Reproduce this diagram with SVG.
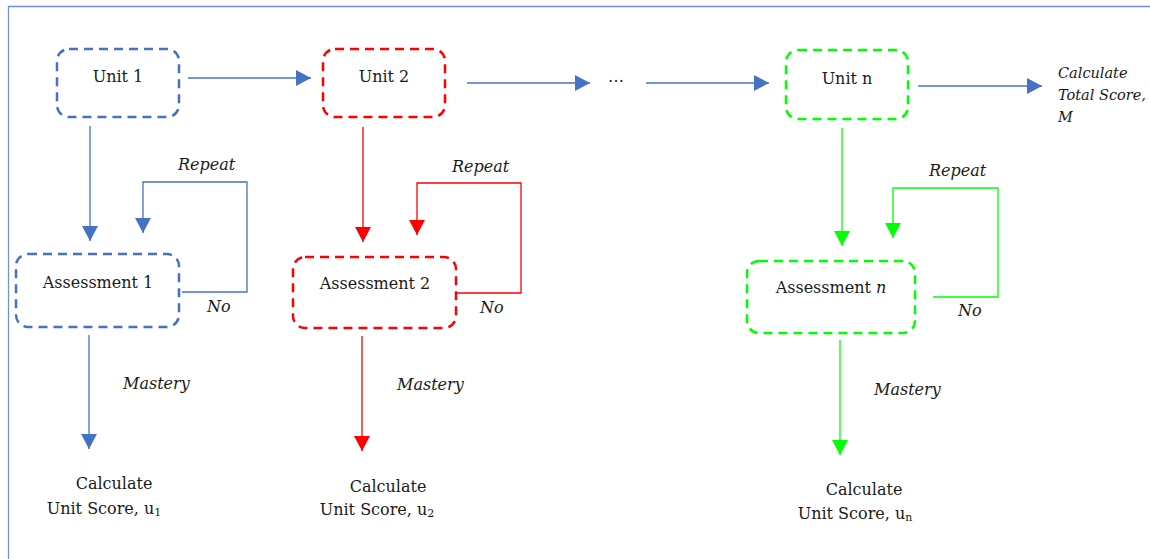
<svg xmlns="http://www.w3.org/2000/svg" width="1150" height="559" viewBox="0 0 1150 559">
  <defs>
    <marker id="ab" markerUnits="userSpaceOnUse" markerWidth="15" markerHeight="16" refX="15" refY="8" orient="auto"><path d="M0,0 L15,8 L0,16 z" fill="#4472C4"/></marker>
    <marker id="ar" markerUnits="userSpaceOnUse" markerWidth="15" markerHeight="16" refX="15" refY="8" orient="auto"><path d="M0,0 L15,8 L0,16 z" fill="#FF0000"/></marker>
    <marker id="ag" markerUnits="userSpaceOnUse" markerWidth="15" markerHeight="16" refX="15" refY="8" orient="auto"><path d="M0,0 L15,8 L0,16 z" fill="#00FF00"/></marker>
  </defs>
  <style>
    .box { fill: none; stroke-width: 2.5; stroke-dasharray: 9 6; }
    .b { stroke: #4472C4; }
    .r { stroke: #FF0000; }
    .g { stroke: #00FF00; }
    .ln { fill: none; stroke-width: 1.3; }
    .t { font-family: "DejaVu Serif", "Liberation Serif", serif; font-size: 16px; fill: #1a1a1a; }
    .i { font-style: italic; }
    .m { text-anchor: middle; }
    .sub { font-size: 11px; }
    .tot { font-size: 14.5px; }
  </style>
  <rect width="1150" height="559" fill="#ffffff"/>
  <path d="M8.5,559 V6.5 H1150" fill="none" stroke="#6F94D4" stroke-width="1.3"/>

  <g id="connectors">
    <path class="ln b" d="M188,78 H311" marker-end="url(#ab)"/>
    <path class="ln b" d="M467,83 H590" marker-end="url(#ab)"/>
    <path class="ln b" d="M646,83 H769" marker-end="url(#ab)"/>
    <path class="ln b" d="M918,86 H1042" marker-end="url(#ab)"/>
    <path class="ln b" d="M90,126 V241" marker-end="url(#ab)"/>
    <path class="ln b" d="M182,292 H247 V182 H143 V233" marker-end="url(#ab)"/>
    <path class="ln b" d="M89,335 V449" marker-end="url(#ab)"/>
    <path class="ln r" d="M363,127 V242" marker-end="url(#ar)"/>
    <path class="ln r" d="M456,293 H521 V183 H417 V235" marker-end="url(#ar)"/>
    <path class="ln r" d="M362,336 V451" marker-end="url(#ar)"/>
    <path class="ln g" d="M842,128 V246" marker-end="url(#ag)"/>
    <path class="ln g" d="M933,297 H998 V188 H893 V238" marker-end="url(#ag)"/>
    <path class="ln g" d="M840,340 V455" marker-end="url(#ag)"/>
  </g>

  <g id="unit1"><rect class="box b" x="57" y="49" width="122" height="68" rx="12"/><text class="t m" x="118" y="82">Unit 1</text></g>
  <g id="unit2"><rect class="box r" x="323" y="49" width="122" height="68" rx="12"/><text class="t m" x="384" y="82">Unit 2</text></g>
  <g id="ellipsis"><text class="t m" x="616" y="82">…</text></g>
  <g id="unitn"><rect class="box g" x="786" y="50" width="122" height="69" rx="12"/><text class="t m" x="847" y="84">Unit n</text></g>
  <g id="total"><text class="t i tot" x="1058" y="78">Calculate</text><text class="t i tot" x="1058" y="100">Total Score,</text><text class="t i tot" x="1058" y="122">M</text></g>

  <g id="assess1"><rect class="box b" x="16" y="254" width="163" height="73" rx="12"/><text class="t m" x="98" y="288">Assessment 1</text></g>
  <g id="assess2"><rect class="box r" x="293" y="257" width="163" height="71" rx="12"/><text class="t m" x="375" y="289">Assessment 2</text></g>
  <g id="assessn"><rect class="box g" x="747" y="261" width="168" height="72" rx="12"/><text class="t m" x="831" y="293">Assessment <tspan class="i">n</tspan></text></g>

  <g id="labels">
    <text class="t i" x="178" y="170">Repeat</text>
    <text class="t i" x="452" y="172">Repeat</text>
    <text class="t i" x="929" y="176">Repeat</text>
    <text class="t i" x="207" y="312">No</text>
    <text class="t i" x="480" y="313">No</text>
    <text class="t i" x="958" y="316">No</text>
    <text class="t i" x="123" y="389">Mastery</text>
    <text class="t i" x="397" y="390">Mastery</text>
    <text class="t i" x="874" y="395">Mastery</text>
  </g>

  <g id="score1"><text class="t m" x="114" y="489">Calculate</text><text class="t m" x="104" y="514">Unit Score, u<tspan class="sub" dy="2">1</tspan></text></g>
  <g id="score2"><text class="t m" x="388" y="492">Calculate</text><text class="t m" x="377" y="515">Unit Score, u<tspan class="sub" dy="2">2</tspan></text></g>
  <g id="scoren"><text class="t m" x="864" y="495">Calculate</text><text class="t m" x="855" y="519">Unit Score, u<tspan class="sub" dy="2">n</tspan></text></g>
</svg>
